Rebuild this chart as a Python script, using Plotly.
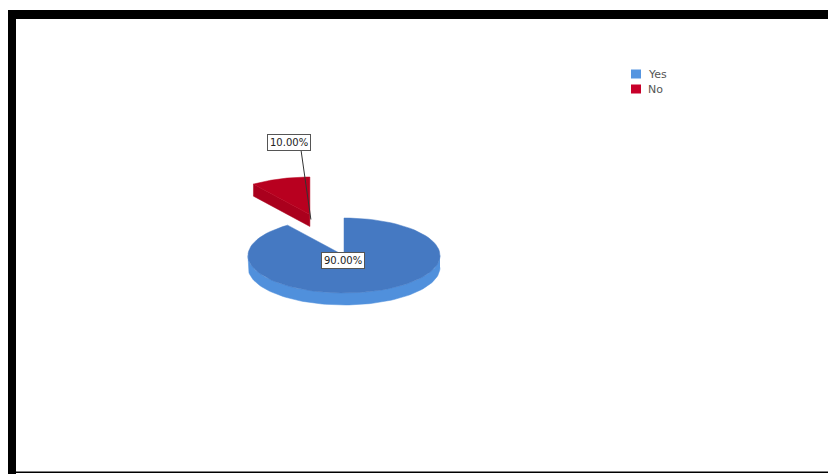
import numpy as np
import plotly.graph_objects as go

# Survey answers and their shares (percent)
categories = ["Yes", "No"]
percentages = [90.0, 10.0]

top_colors = ["#4579c2", "#b8001f"]
side_colors = ["#5090dc", "#aa001d"]
legend_colors = ["#5595e0", "#c8002a"]

W, H = 828, 474
FONT = "DejaVu Sans, Verdana, sans-serif"

# Geometry of the tilted pie (pixel space of the plot area)
cx, cy = 344, 255.5        # centre of the top face
rx, ry = 96, 37.5          # ellipse radii of the top face
depth = 12                 # thickness of the disc
explode = {"No": 1.15}     # pulled-out slices, in units of the radius


def rim(t0, t1, ox, oy, dz=0.0, n=90):
    t = np.radians(np.linspace(t0, t1, n))
    return cx + ox + rx * np.sin(t), cy + oy + dz - ry * np.cos(t)


fig = go.Figure()

slices = []
cum = 0.0
for cat, val, top_c, side_c in zip(categories, percentages, top_colors, side_colors):
    t0, t1 = cum * 3.6, (cum + val) * 3.6
    cum += val
    mid = np.radians((t0 + t1) / 2)
    e = explode.get(cat, 0.0)
    ox, oy = rx * e * np.sin(mid), -ry * e * np.cos(mid)
    slices.append(dict(cat=cat, val=val, t0=t0, t1=t1, ox=ox, oy=oy,
                       top=top_c, side=side_c))

# paint from the back to the front
slices.sort(key=lambda s: s["oy"])

for s in slices:
    t0, t1, ox, oy = s["t0"], s["t1"], s["ox"], s["oy"]
    # outer rim band (only the front half of the disc is visible)
    a, b = max(t0, 90), min(t1, 270)
    if b > a:
        xu, yu = rim(a, b, ox, oy)
        xl, yl = rim(a, b, ox, oy, depth)
        fig.add_trace(go.Scatter(
            x=np.concatenate([xu, xl[::-1]]), y=np.concatenate([yu, yl[::-1]]),
            fill="toself", fillcolor=s["side"], mode="lines",
            line=dict(color=s["side"], width=0.5), hoverinfo="skip", showlegend=False))
    # radial cut faces that turn toward the viewer
    for t, normal in ((t0, t0 - 90), (t1, t1 + 90)):
        if np.cos(np.radians(normal)) < -1e-6:
            px = cx + ox + rx * np.sin(np.radians(t))
            py = cy + oy - ry * np.cos(np.radians(t))
            fig.add_trace(go.Scatter(
                x=[cx + ox, px, px, cx + ox, cx + ox],
                y=[cy + oy, py, py + depth, cy + oy + depth, cy + oy],
                fill="toself", fillcolor=s["side"], mode="lines",
                line=dict(color=s["side"], width=0.5), hoverinfo="skip", showlegend=False))
    # top face
    xr, yr = rim(t0, t1, ox, oy)
    fig.add_trace(go.Scatter(
        x=np.concatenate([[cx + ox], xr, [cx + ox]]),
        y=np.concatenate([[cy + oy], yr, [cy + oy]]),
        fill="toself", fillcolor=s["top"], mode="lines",
        line=dict(color=s["top"], width=0.5), hoverinfo="skip", showlegend=False))

# value labels
box = dict(font=dict(family=FONT, size=10, color="#222"),
           bgcolor="white", bordercolor="#555", borderwidth=1, borderpad=2)
by_cat = {s["cat"]: s for s in slices}
yes = by_cat["Yes"]
fig.add_annotation(x=cx - 1, y=cy + 4.5, text=f"{yes['val']:.2f}%", showarrow=False, **box)

no = by_cat["No"]
lab_x, lab_y = 289, 142
tip_x = cx + no["ox"] + 1
tip_y = cy + no["oy"] + 5
# leader line from the label box down to the pulled-out slice
fig.add_shape(type="line", xref="x", yref="y", x0=lab_x + 12, y0=lab_y + 8,
              x1=tip_x, y1=tip_y, line=dict(color="#333", width=1))
fig.add_annotation(x=lab_x, y=lab_y, text=f"{no['val']:.2f}%", showarrow=False, **box)

# legend: colour swatch followed by the category name
lx, ly, step, sw = 631, 74, 15, 9
for i, (cat, col) in enumerate(zip(categories, legend_colors)):
    yc = ly + i * step
    fig.add_shape(type="rect", xref="x", yref="y", x0=lx, x1=lx + sw + 1,
                  y0=yc - sw / 2, y1=yc + sw / 2, fillcolor=col, line=dict(width=0))
    fig.add_annotation(x=lx + sw + 6, y=yc, text=cat, showarrow=False,
                       xanchor="left", yanchor="middle",
                       font=dict(family=FONT, size=11, color="#555"))

# heavy frame around the chart
frame = "black"
fig.add_shape(type="rect", xref="x", yref="y", x0=8, x1=16, y0=10, y1=474,
              fillcolor=frame, line=dict(width=0))
fig.add_shape(type="rect", xref="x", yref="y", x0=8, x1=830, y0=10, y1=19,
              fillcolor=frame, line=dict(width=0))
fig.add_shape(type="rect", xref="x", yref="y", x0=8, x1=830, y0=471.5, y1=473,
              fillcolor=frame, line=dict(width=0))

fig.update_layout(
    width=W, height=H, margin=dict(l=0, r=0, t=0, b=0),
    paper_bgcolor="white", plot_bgcolor="white",
    xaxis=dict(range=[0, W], visible=False, fixedrange=True),
    yaxis=dict(range=[H, 0], visible=False, fixedrange=True),
    showlegend=False,
)

fig.write_html("out.html")
